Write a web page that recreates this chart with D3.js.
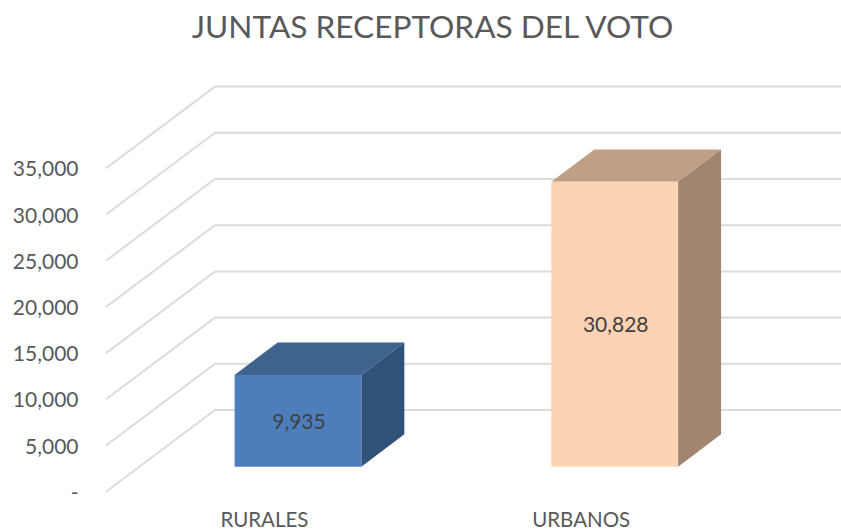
<!DOCTYPE html>
<html><head><meta charset="utf-8">
<script src="https://cdnjs.cloudflare.com/ajax/libs/d3/7.8.5/d3.min.js"></script>
<style>html,body{margin:0;padding:0;background:#fff}svg{display:block}text{font-family:Lato,"Open Sans",sans-serif}</style>
</head><body><svg id="c" width="841" height="531"></svg>
<script>
const chartTitle = "JUNTAS RECEPTORAS DEL VOTO";
const categories = ["RURALES", "URBANOS"];
const values = [9935, 30828];
const yTicks = [0, 5000, 10000, 15000, 20000, 25000, 30000, 35000];
const frontColors = ["#4d7ebb", "#fdd3b5"];
const topColors = ["#3e638f", "#bfa087"];
const sideColors = ["#315278", "#a28570"];

const svg = d3.select("#c");
const y = d3.scaleLinear().domain([0, 35000]).range([491.7, 168.3]);
const x = d3.scaleBand().domain(categories).range([106.6, 740.1]).paddingInner(0.6).paddingOuter(0.3);
const fmt = v => v === 0 ? "-" : d3.format(",")(v);

// depth offsets: wall, bar front plane, bar depth
const wall = {dx: 109, dy: -81.7}, barFront = {dx: 33, dy: -25}, barDepth = {dx: 43, dy: -32.4};
const right = 841;

svg.append("text").attr("x", 432.5).attr("y", 38).attr("text-anchor", "middle")
  .attr("font-size", 31.6).attr("fill", "#595959").text(chartTitle);

const line = d3.line();
svg.append("g").selectAll("path").data(yTicks).join("path")
  .attr("fill", "none").attr("stroke", "#dcdcdc").attr("stroke-width", 2)
  .attr("d", t => line([[106, y(t)], [106 + wall.dx, y(t) + wall.dy], [right, y(t) + wall.dy]]));

svg.append("g").selectAll("text").data(yTicks).join("text")
  .attr("x", 78.5).attr("y", t => y(t) + 8).attr("text-anchor", "end")
  .attr("font-size", 21).attr("fill", "#595959").text(fmt);

const poly = p => line(p) + "Z";
const bars = svg.append("g").selectAll("g").data(categories).join("g");
const geo = (c) => {
  const i = categories.indexOf(c);
  const x0 = x(c) + barFront.dx, x1 = x0 + x.bandwidth();
  const yb = y(0) + barFront.dy, yt = y(values[i]) + barFront.dy;
  return {i, x0, x1, yb, yt};
};
bars.append("path").attr("d", c => { const g = geo(c);
  return poly([[g.x0,g.yt],[g.x1,g.yt],[g.x1+barDepth.dx,g.yt+barDepth.dy],[g.x0+barDepth.dx,g.yt+barDepth.dy]]); })
  .attr("fill", c => topColors[geo(c).i]);
bars.append("path").attr("d", c => { const g = geo(c);
  return poly([[g.x1,g.yt],[g.x1+barDepth.dx,g.yt+barDepth.dy],[g.x1+barDepth.dx,g.yb+barDepth.dy],[g.x1,g.yb]]); })
  .attr("fill", c => sideColors[geo(c).i]);
bars.append("path").attr("d", c => { const g = geo(c);
  return poly([[g.x0,g.yt],[g.x1,g.yt],[g.x1,g.yb],[g.x0,g.yb]]); })
  .attr("fill", c => frontColors[geo(c).i]);
bars.append("text").attr("text-anchor", "middle")
  .attr("x", c => (geo(c).x0 + geo(c).x1) / 2 + 1)
  .attr("y", c => (geo(c).yt + geo(c).yb) / 2 + 8)
  .attr("font-size", 21).attr("fill", "#404040")
  .text(c => d3.format(",")(values[geo(c).i]));

svg.append("g").selectAll("text").data(categories).join("text")
  .attr("x", c => x(c) + x.bandwidth() / 2 - 0.5).attr("y", 527).attr("text-anchor", "middle")
  .attr("font-size", 20.5).attr("fill", "#595959").text(c => c);
</script></body></html>
